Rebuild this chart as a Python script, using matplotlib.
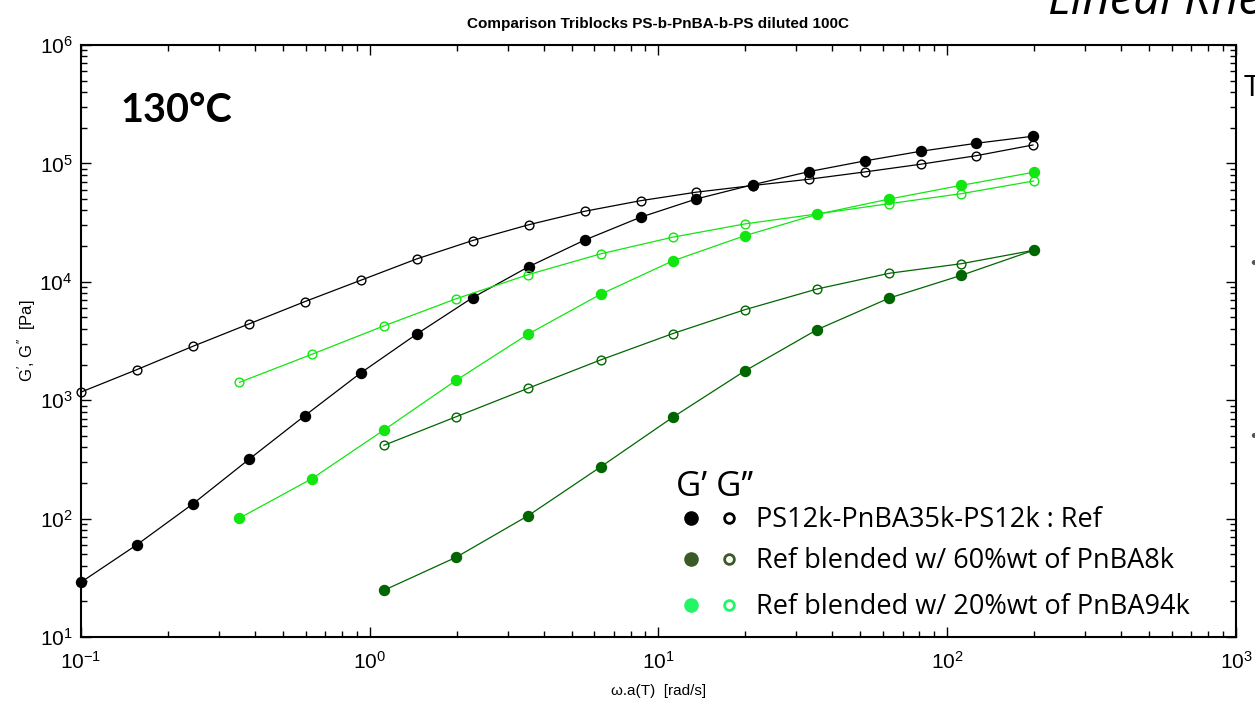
import matplotlib
matplotlib.use('Agg')
import matplotlib.pyplot as plt

# frequency (rad/s)
w_ref = [0.1, 0.156, 0.244, 0.382, 0.596, 0.931, 1.455, 2.27, 3.55, 5.55,
         8.67, 13.5, 21.2, 33.1, 51.7, 80.8, 126, 198]
w_blend20 = [0.354, 0.63, 1.12, 1.99, 3.54, 6.3, 11.2, 19.9, 35.4, 63, 112, 199]
w_blend60 = [1.12, 1.99, 3.54, 6.3, 11.2, 19.9, 35.4, 63, 112, 199]

# G' and G'' (Pa)
gp_ref = [29, 60, 133, 317, 740, 1700, 3620, 7340, 13400, 22500,
          35100, 50000, 66000, 85100, 104800, 126500, 147800, 169500]
gpp_ref = [1170, 1810, 2850, 4410, 6800, 10300, 15600, 22300, 30300, 39400,
           48400, 57100, 65000, 73400, 84600, 98300, 116100, 143000]
gp_b20 = [101, 217, 560, 1470, 3620, 7840, 15000, 24500, 37100, 50000, 65300, 84100]
gpp_b20 = [1416, 2440, 4240, 7180, 11500, 17200, 23800, 30800, 37400, 45700, 55500, 71000]
gp_b60 = [24.8, 47.1, 106, 273, 717, 1765, 3940, 7290, 11350, 18450]
gpp_b60 = [416, 724, 1262, 2187, 3650, 5810, 8690, 11800, 14220, 18450]

legend_labels = ['PS12k-PnBA35k-PS12k : Ref',
                 'Ref blended w/ 60%wt of PnBA8k',
                 'Ref blended w/ 20%wt of PnBA94k']

plt.rcParams['font.family'] = ['Liberation Sans', 'DejaVu Sans']
plt.rcParams['mathtext.fontset'] = 'custom'
plt.rcParams['mathtext.rm'] = 'Liberation Sans'
plt.rcParams['mathtext.it'] = 'Liberation Sans:italic'
plt.rcParams['axes.unicode_minus'] = False

fig = plt.figure(figsize=(12.55, 7.07), dpi=100)
ax = fig.add_axes([0.0645, 0.099, 0.9204, 0.8374])

black = '#000000'
bright = '#11e611'
dark = '#006600'

def series(x, y, color, filled):
    ax.plot(x, y, '-o', color=color, lw=0.9,
            ms=7.2 if filled else 6.3,
            mfc=color if filled else 'none', mec=color, mew=1.0,
            clip_on=False, zorder=3)

series(w_ref, gpp_ref, black, False)
series(w_ref, gp_ref, black, True)
series(w_blend20, gpp_b20, bright, False)
series(w_blend20, gp_b20, bright, True)
series(w_blend60, gpp_b60, dark, False)
series(w_blend60, gp_b60, dark, True)

ax.set_xscale('log')
ax.set_yscale('log')
ax.set_xlim(0.1, 1000)
ax.set_ylim(10, 1e6)

for s in ax.spines.values():
    s.set_linewidth(1.5)
ax.tick_params(which='both', direction='in', top=True, right=True, width=1.0)
ax.tick_params(which='major', length=7, labelsize=15, pad=6)
ax.tick_params(axis='x', which='major', pad=10)
ax.tick_params(which='minor', length=4.5)

ax.set_xlabel('ω.a(T)  [rad/s]', fontsize=11, labelpad=8)
ax.set_ylabel('G$^{\\prime}$, G$^{\\prime\\prime}$  [Pa]', fontsize=12, labelpad=1)
ax.set_title('Comparison Triblocks PS-b-PnBA-b-PS diluted 100C',
             fontsize=11, fontweight='bold', pad=12)

# slide overlays
fig.text(120 / 1255, 1 - 110 / 707, '130°C', fontsize=28.5, fontweight='bold',
         family='Lato', va='center', ha='left')
fig.text(1048 / 1255, 1 - 14 / 707, 'Lineal Rheology', fontsize=34, style='italic',
         family='Open Sans', va='baseline', ha='left')

# legend drawn as slide text
fig.text(676 / 1255, 1 - 496 / 707, 'G’ G’’', fontsize=25, family='Open Sans',
         va='baseline', ha='left')
leg_colors = ['#000000', '#3a5a26', '#22f566']
leg_y = [518, 559, 605]
for lab, c, yy in zip(legend_labels, leg_colors, leg_y):
    fy = 1 - yy / 707
    fig.lines.append(plt.Line2D([690.5 / 1255], [fy], marker='o', ms=9.5, color=c,
                                transform=fig.transFigure))
    fig.lines.append(plt.Line2D([729 / 1255], [fy], marker='o', ms=7, mfc='white',
                                mec=c, mew=2, transform=fig.transFigure))
    fig.text(756 / 1255, 1 - (yy + 9) / 707, lab, fontsize=19.5, family='Open Sans',
             va='baseline', ha='left')

# cut-off slide glyphs at right edge
fig.text(1244 / 1255, 1 - 88 / 707, 'T', fontsize=20, family='Lato', va='center', ha='left')
fig.text(1250 / 1255, 1 - 265 / 707, '•', fontsize=14, color='#555555', va='center', ha='left')
fig.text(1250 / 1255, 1 - 437 / 707, '•', fontsize=14, color='#555555', va='center', ha='left')

fig.savefig('out.png', dpi=100)
